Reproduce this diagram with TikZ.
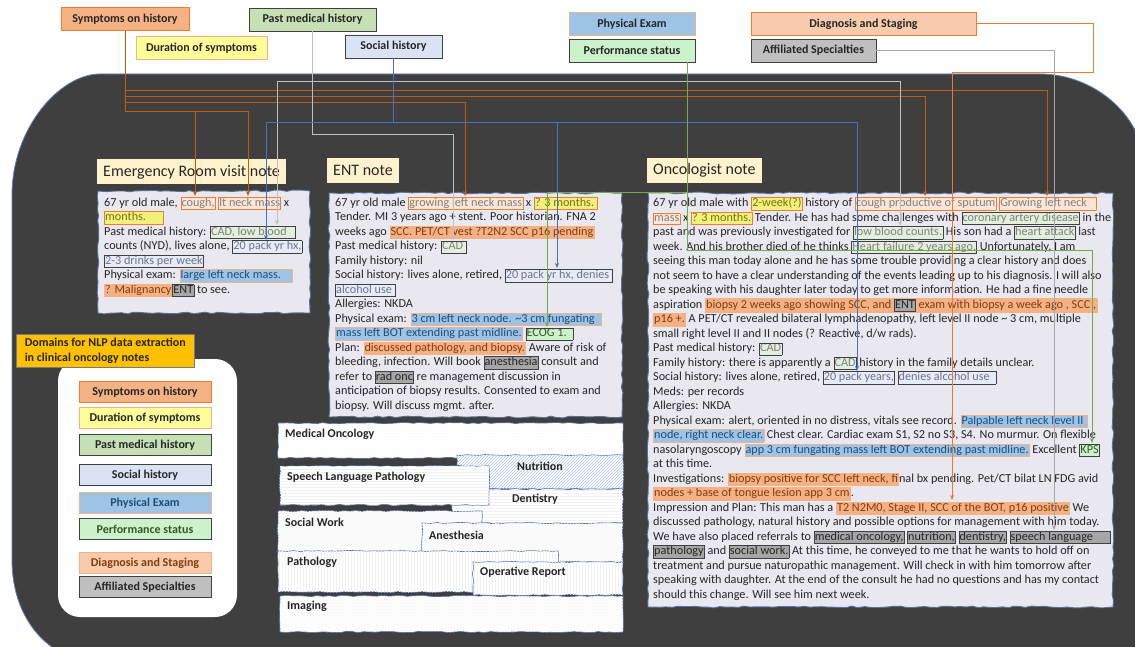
\documentclass[tikz,border=0pt]{standalone}
\usepackage{fontspec}
\setmainfont{Carlito}
\usetikzlibrary{arrows.meta,patterns,decorations.pathmorphing}

% colours of the panel and notes
\definecolor{bgDark}{HTML}{3F3F3F}
\definecolor{bgEdge}{HTML}{5A7EC0}
\definecolor{noteFill}{HTML}{E9E7EF}
\definecolor{noteEdge}{HTML}{5A6F99}
\definecolor{titleFill}{HTML}{FFF2CC}
\definecolor{txtDark}{HTML}{262626}
\definecolor{edgeGray}{HTML}{404040}
\definecolor{secEdge}{HTML}{4A6AA8}
\definecolor{nlpGold}{HTML}{FFC000}
% colours of the domains
\definecolor{symFill}{HTML}{F4B183}
\definecolor{symEdge}{HTML}{ED7D31}
\definecolor{symLite}{HTML}{FBE5D6}
\definecolor{symLine}{HTML}{C55A11}
\definecolor{durFill}{HTML}{FFFF99}
\definecolor{durLite}{HTML}{F0F07C}
\definecolor{pmhFill}{HTML}{C5E0B4}
\definecolor{pmhLite}{HTML}{E2EFDA}
\definecolor{pmhLine}{HTML}{C0C0C0}
\definecolor{socFill}{HTML}{DAE3F3}
\definecolor{socLine}{HTML}{4472C4}
\definecolor{peFill}{HTML}{9DC3E6}
\definecolor{peText}{HTML}{1F4E79}
\definecolor{psFill}{HTML}{CCF2CC}
\definecolor{psLine}{HTML}{70AD47}
\definecolor{psText}{HTML}{375623}
\definecolor{dxFill}{HTML}{F8CBAD}
\definecolor{dxMid}{HTML}{F4B183}
\definecolor{dxLine}{HTML}{E97C30}
\definecolor{dxText}{HTML}{843C0C}
\definecolor{affFill}{HTML}{BFBFBF}
\definecolor{affMid}{HTML}{A6A6A6}
\definecolor{affLine}{HTML}{A6A6A6}

% fonts
\newcommand{\noteFont}{\fontsize{12.2}{14.5}\selectfont}
\newcommand{\tagfont}{\fontsize{12}{14.5}\selectfont\bfseries}
\newcommand{\noteTitleFont}{\fontsize{16}{19}\selectfont}

% highlighted spans in the notes
\setlength{\fboxsep}{0.4pt}
\setlength{\fboxrule}{0.6pt}
\setlength{\lineskiplimit}{-20pt}
\newcommand{\hlStrut}{\rule[-2.7pt]{0pt}{9.4pt}}
\newcommand{\hlBox}[4]{\fcolorbox{#1}{#2}{\hlStrut\textcolor{#3}{#4}}}
\newcommand{\hlSym}[1]{\hlBox{symEdge}{symLite}{gray}{#1}}
\newcommand{\hlDur}[1]{\hlBox{symEdge}{durLite}{olive!80!black}{#1}}
\newcommand{\hlPmh}[1]{\hlBox{edgeGray}{pmhLite}{gray}{#1}}
\newcommand{\hlSoc}[1]{\hlBox{edgeGray}{socFill!70!white}{gray!90!blue}{#1}}
\newcommand{\hlPe}[1]{\hlBox{dxMid}{peFill}{peText}{#1}}
\newcommand{\hlPs}[1]{\hlBox{edgeGray}{psFill}{psText}{#1}}
\newcommand{\hlDx}[1]{\hlBox{dxMid}{dxMid}{dxText}{#1}}
\newcommand{\hlAff}[1]{\hlBox{edgeGray}{affMid}{txtDark}{#1}}

\begin{document}
\begin{tikzpicture}[x=1pt,y=-1pt]
  % Define styles
  \tikzset{
    domTag/.style={draw, line width=0.8pt, font=\tagfont, text=txtDark, inner sep=0pt, minimum height=23pt},
    noteTitle/.style={fill=titleFill, font=\noteTitleFont, text=txtDark, anchor=west, inner xsep=6pt, inner ysep=0pt, minimum height=25pt},
    noteBody/.style={fill=noteFill, draw=noteEdge, line width=0.9pt, decorate, decoration={random steps, segment length=6pt, amplitude=0.9pt}},
    noteText/.style={anchor=north west, align=left, inner sep=0pt, font=\noteFont, text=txtDark},
    linkLine/.style={line width=1pt, -{Stealth[length=5pt,width=4pt]}},
    sect/.style={draw=secEdge, line width=0.6pt, fill=white, decorate, decoration={random steps, segment length=6pt, amplitude=0.6pt},
      postaction={pattern=#1, pattern color=gray!10}},
    sectLabel/.style={anchor=west, font=\tagfont, text=txtDark, inner sep=0pt}
  }
  \useasboundingbox (0,0) rectangle (1135,647);
  \fill[white] (0,0) rectangle (1135,647);

  % Dark panel behind the notes
  \fill[bgDark, draw=bgEdge, line width=0.8pt] (12,195) .. controls (12,128) and (60,74) .. (100,74)
    -- (1040,74) .. controls (1095,74) and (1145,117) .. (1145,170)
    -- (1145,665) -- (110,665) .. controls (50,665) and (12,620) .. (12,560) -- cycle;

  % Domain labels on top
  \node[domTag, fill=symFill, draw=symEdge, minimum width=128pt] (sym) at (125,19) {Symptoms on history};
  \node[domTag, fill=durFill, draw=symFill, minimum width=131pt] (dur) at (201.5,48) {Duration of symptoms};
  \node[domTag, fill=pmhFill, draw=edgeGray, minimum width=127pt] (pmh) at (312.5,19.5) {Past medical history};
  \node[domTag, fill=socFill, draw=edgeGray, minimum width=97pt] (soc) at (393.5,46.5) {Social history};
  \node[domTag, fill=peFill, draw=symFill, minimum width=126pt] (pe) at (632,24) {Physical Exam};
  \node[domTag, fill=psFill, draw=edgeGray, minimum width=126pt] (perf) at (632,50.5) {Performance status};
  \node[domTag, fill=dxFill, draw=symEdge, minimum width=225pt] (dx) at (863.5,24) {Diagnosis and Staging};
  \node[domTag, fill=affFill, draw=edgeGray, minimum width=125pt] (aff) at (813.5,50.5) {Affiliated Specialties};

  % Emergency room note
  \node[noteTitle] (erTitle) at (97,172) {Emergency Room visit note};
  \draw[noteBody] (98,191) rectangle (310,313);
  \node[noteText] (erText) at (104,196.5) {67 yr old male, \hlSym{cough,} \hlSym{lt neck mass} x\\
    \hlDur{months.\ \ \ \ \ \ }\\
    Past medical history: \hlPmh{CAD, low blood\ \ \ }\\
    counts (NYD), lives alone, \hlSoc{20 pack yr hx,}\\
    \hlSoc{2-3 drinks per week}\\
    Physical exam: \hlPe{large left neck mass.\ \ \ \ }\\
    \hlDx{? Malignancy}\hlAff{ENT} to see.};

  % ENT note
  \node[noteTitle] (entTitle) at (327,170.5) {ENT note};
  \draw[noteBody] (329,193) rectangle (622,417);
  \node[noteText] (entText) at (335,196.5) {67 yr old male \hlSym{growing left neck mass} x \hlDur{? 3 months.\ }\\
    Tender.  MI  3 years ago + stent. Poor historian. FNA 2\\
    weeks ago \hlDx{SCC.  PET/CT vest ?T2N2 SCC p16 pending}\\
    Past medical history: \hlPmh{CAD\ }\\
    Family history: nil\\
    Social history: lives alone, retired, \hlSoc{20 pack yr hx, denies\ }\\
    \hlSoc{alcohol use\ }\\
    Allergies: NKDA\\
    Physical exam: \hlPe{3 cm left neck node. \textasciitilde3 cm fungating\ \ }\\
    \hlPe{mass left BOT extending past midline.} \hlPs{ECOG 1.\ \ }\\
    Plan: \hlDx{discussed pathology, and biopsy.} Aware of risk of\\
    bleeding, infection. Will book \hlAff{anesthesia} consult and\\
    refer to \hlAff{rad onc} re management discussion in\\
    anticipation of biopsy results.  Consented to exam and\\
    biopsy. Will discuss mgmt. after.};

  % Oncologist note
  \node[noteTitle] (oncTitle) at (647,170.5) {Oncologist note};
  \draw[noteBody] (648,193) rectangle (1113,607);
  \node[noteText] (oncText) at (653,196.5) {67 yr old male with \hlDur{2-week(?)} history of \hlSym{cough productive of sputum} \hlSym{ Growing left neck\ \ \ }\\
    \hlSym{mass} x \hlDur{? 3 months.} Tender.  He has had some challenges with \hlPmh{coronary artery disease} in the\\
    past and was previously investigated for \hlPmh{low blood counts.} His son had a \hlPmh{heart attack} last\\
    week.  And his brother died of he thinks \hlPmh{Heart failure 2 years ago.} Unfortunately,  I am\\
    seeing this man today alone  and he has some trouble providing a clear history and does\\
    not seem to have a clear understanding of the events leading up to his diagnosis. I will also\\
    be speaking with his daughter later today to get more information. He had a fine needle\\
    aspiration \hlDx{biopsy 2 weeks ago showing SCC, and \hlAff{ENT} exam  with biopsy a week ago , SCC ,}\\
    \hlDx{p16 +.} A PET/CT revealed bilateral lymphadenopathy,  left level II node \textasciitilde{} 3 cm, multiple\\
    small right level II and II nodes (? Reactive, d/w rads).\\
    Past medical history: \hlPmh{CAD}\\
    Family history: there is apparently a \hlPmh{CAD} history in the family details unclear.\\
    Social history: lives alone, retired, \hlSoc{20 pack years,} \hlSoc{denies alcohol use\ \ }\\
    Meds: per records\\
    Allergies: NKDA\\
    Physical exam: alert, oriented in no distress, vitals see record. \hlPe{Palpable left neck level II\ }\\
    \hlPe{node, right neck clear.} Chest clear. Cardiac exam S1, S2 no S3, S4. No murmur. On flexible\\
    nasolaryngoscopy \hlPe{app 3 cm fungating mass left BOT extending past midline.} Excellent \hlPs{KPS}\\
    at this time.\\
    Investigations: \hlDx{biopsy positive for SCC left neck, fi}nal bx pending. Pet/CT bilat LN FDG avid\\
    \hlDx{nodes + base of tongue lesion app 3 cm}.\\
    Impression and Plan: This man has a \hlDx{T2 N2M0, Stage II, SCC of the BOT, p16 positive}  We\\
    discussed pathology, natural history and possible options for management with him today.\\
    We have also placed referrals to \hlAff{medical oncology,} \hlAff{nutrition,} \hlAff{dentistry,} \hlAff{speech language\ \ \ \ \ \ }\\
    \hlAff{pathology} and \hlAff{social work.} At this time, he conveyed to me that he wants to hold off on\\
    treatment and pursue naturopathic management. Will check in with him tomorrow after\\
    speaking with daughter. At the end of the consult he had no questions and has my contact\\
    should this change. Will see him next week.};

  % Legend of the domains
  \fill[white, rounded corners=22pt] (58,359) rectangle (237,617);
  \node[fill=nlpGold, draw=edgeGray!70, line width=0.6pt, font=\tagfont, text=txtDark, align=left,
    anchor=north west, inner xsep=6pt, inner ysep=4pt, minimum width=178pt] (nlpTitle) at (16,334)
    {Domains for NLP data extraction\\in clinical oncology notes};
  \foreach \tx/\fl/\dr/\tc/\yy [count=\i] in {Symptoms on history/symFill/symEdge/txtDark/392,
      Duration of symptoms/durFill/symFill/txtDark/418,
      Past medical history/pmhFill/edgeGray/txtDark/445,
      Social history/socFill/edgeGray/txtDark/475,
      Physical Exam/peFill/symFill/peText/503,
      Performance status/psFill/edgeGray/psText/529,
      Diagnosis and Staging/dxFill/symFill/dxText/563,
      Affiliated Specialties/affFill/edgeGray/txtDark/587}
    \node[domTag, fill=\fl, draw=\dr, text=\tc, minimum width=132pt, minimum height=21pt] (legend\i) at (145,\yy) {\tx};

  % Sections of the record
  \path[sect=dots] (278,423) rectangle (623,458);
  \path[sect=north east lines, postaction={pattern=north east lines, pattern color=socLine!40}] (457,455) rectangle (623,489);
  \path[sect=horizontal lines] (452,489) rectangle (623,523);
  \path[sect=horizontal lines] (280,466) rectangle (489,505);
  \path[sect=north east lines] (278,511) rectangle (482,552);
  \path[sect=north east lines] (422,523) rectangle (623,562);
  \path[sect=vertical lines] (278,551) rectangle (558,592);
  \path[sect=vertical lines] (473,562) rectangle (623,595);
  \path[sect=crosshatch dots] (280,596) rectangle (623,632);
  \node[sectLabel] (secMedOnc) at (285,434) {Medical Oncology};
  \node[sectLabel, anchor=center] (secNutrition) at (540,466) {Nutrition};
  \node[sectLabel] (secSpeech) at (287,477) {Speech Language Pathology};
  \node[sectLabel, anchor=center] (secDentistry) at (535,499) {Dentistry};
  \node[sectLabel] (secSocial) at (285,522) {Social Work};
  \node[sectLabel] (secAnesthesia) at (429,535) {Anesthesia};
  \node[sectLabel] (secPathology) at (287,562) {Pathology};
  \node[sectLabel] (secOperative) at (480,572) {Operative Report};
  \node[sectLabel] (secImaging) at (287,606) {Imaging};

  % Arrow ends on the highlighted spans
  \coordinate (erCough) at (195,196);
  \coordinate (erMass) at (248,196);
  \coordinate (erCad) at (277,225);
  \coordinate (erPack) at (266,240);
  \coordinate (entMass) at (465,196);
  \coordinate (entCad) at (453,240);
  \coordinate (entPack) at (557,268);
  \coordinate (entEcog) at (547,327);
  \coordinate (oncCough) at (925,196);
  \coordinate (oncMass) at (1047,196);
  \coordinate (oncBlood) at (900,226);
  \coordinate (oncPack) at (857,371);
  \coordinate (oncKps) at (1092,443);
  \coordinate (oncStage) at (952,500);
  \coordinate (oncSpeech) at (1054,530);
  % bends of the connectors
  \coordinate (psSplit) at (687,193);
  \coordinate (psBend) at (687,250);
  \coordinate (dxBend) at (1093,73);

  % Symptoms on history
  \draw[linkLine, symLine] (sym.south) -- (sym.south |- 0,112) -| (erCough);
  \draw[linkLine, symLine] (sym.south |- 0,112) -| (erMass);
  \draw[linkLine, symLine] (sym.south |- 0,103) -| (entMass);
  \draw[linkLine, symLine] (sym.south |- 0,97) -| (oncCough);
  \draw[linkLine, symLine] (sym.south |- 0,91) -| (oncMass);
  % Past medical history
  \draw[linkLine, pmhLine] (pmh.south) -- (pmh.south |- 0,135) -| (entCad);
  \draw[linkLine, pmhLine] (pmh.south |- 0,82) -| (erCad);
  \draw[linkLine, pmhLine] (pmh.south |- 0,82) -| (oncBlood);
  % Social history
  \draw[linkLine, socLine] (soc.south) -- (soc.south |- 0,123) -| (erPack);
  \draw[linkLine, socLine] (soc.south |- 0,123) -| (entPack);
  \draw[linkLine, socLine] (soc.south |- 0,123) -| (oncPack);
  % Performance status
  \draw[linkLine, psLine] (perf.south -| psSplit) -- (psSplit) -| (entEcog);
  \draw[linkLine, psLine] (psSplit) -- (psBend) -| (oncKps);
  % Diagnosis and staging
  \draw[linkLine, dxLine] (dx.east) -| (dxBend) -| (oncStage);
  % Affiliated specialties
  \draw[linkLine, affLine] (aff.east) -| (oncSpeech);
\end{tikzpicture}
\end{document}
